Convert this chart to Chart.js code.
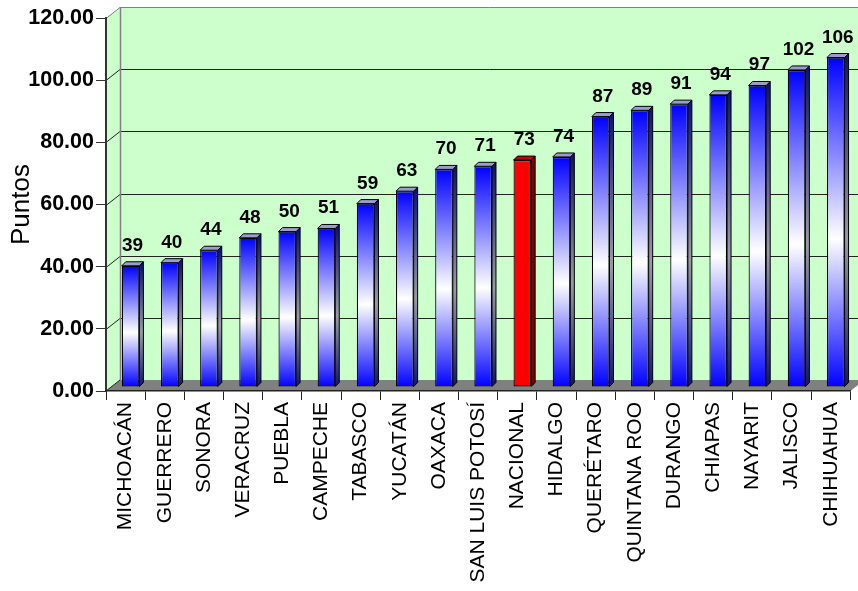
<!DOCTYPE html>
<html>
<head>
<meta charset="utf-8">
<script src="https://cdn.jsdelivr.net/npm/chart.js@4.4.1/dist/chart.umd.min.js"></script>
<style>
    html, body { margin: 0; padding: 0; background: #fff; }
    #wrap { width: 858px; height: 591px; }
</style>
</head>
<body>
<div id="wrap"><canvas id="puntosChart" width="858" height="591"></canvas></div>
<script>
        // Datos
        const estados = ['MICHOACÁN', 'GUERRERO', 'SONORA', 'VERACRUZ', 'PUEBLA', 'CAMPECHE', 'TABASCO', 'YUCATÁN',
            'OAXACA', 'SAN LUIS POTOSÍ', 'NACIONAL', 'HIDALGO', 'QUERÉTARO', 'QUINTANA ROO', 'DURANGO', 'CHIAPAS',
            'NAYARIT', 'JALISCO', 'CHIHUAHUA'];
        const puntos = [39, 40, 44, 48, 50, 51, 59, 63, 70, 71, 73, 74, 87, 89, 91, 94, 97, 102, 106];
        const ejeY = [0, 20, 40, 60, 80, 100, 120];
        const destacado = 'NACIONAL';

        // Configurar Chart.js
        Chart.defaults.font.family = "'Liberation Sans', Arial, sans-serif";
        Chart.defaults.color = '#000';

        const PROF_X = 14, PROF_Y = 11;   // profundidad de las paredes
        const MOV_X = 5, MOV_Y = -4;      // barras a media profundidad
        const BAR_X = 4, BAR_Y = 4;       // profundidad de la barra
        const idxRojo = estados.indexOf(destacado);

        // Paredes, piso y rejilla
        const paredes = {
            id: 'paredes',
            beforeDraw(chart) {
                const { ctx, chartArea: a, scales: { y } } = chart;
                ctx.save();
                ctx.fillStyle = '#ccffcc';
                ctx.beginPath();
                ctx.moveTo(a.left, a.top);
                ctx.lineTo(a.left + PROF_X, a.top - PROF_Y);
                ctx.lineTo(a.right + PROF_X, a.top - PROF_Y);
                ctx.lineTo(a.right + PROF_X, a.bottom - PROF_Y);
                ctx.lineTo(a.left, a.bottom);
                ctx.closePath();
                ctx.fill();

                // piso
                ctx.fillStyle = '#808080';
                ctx.beginPath();
                ctx.moveTo(a.left, a.bottom);
                ctx.lineTo(a.left + PROF_X, a.bottom - PROF_Y);
                ctx.lineTo(a.right + PROF_X, a.bottom - PROF_Y);
                ctx.lineTo(a.right, a.bottom);
                ctx.closePath();
                ctx.fill();

                // rejilla
                ctx.lineWidth = 1;
                ejeY.forEach(v => {
                    if (v === 0) return;
                    const py = Math.round(y.getPixelForValue(v)) + 0.5;
                    ctx.strokeStyle = v === ejeY[ejeY.length - 1] ? '#808080' : '#222';
                    ctx.beginPath();
                    ctx.moveTo(a.left, py);
                    ctx.lineTo(a.left + PROF_X, py - PROF_Y);
                    ctx.lineTo(a.right + PROF_X, py - PROF_Y);
                    ctx.stroke();
                });
                ctx.strokeStyle = '#222';
                ctx.beginPath();
                ctx.moveTo(a.left, a.bottom);
                ctx.lineTo(a.left + PROF_X, a.bottom - PROF_Y);
                ctx.stroke();

                // borde de la pared del fondo
                ctx.strokeStyle = '#808080';
                ctx.lineWidth = 1.5;
                ctx.beginPath();
                ctx.moveTo(a.left + PROF_X + 0.5, a.top - PROF_Y);
                ctx.lineTo(a.left + PROF_X + 0.5, a.bottom - PROF_Y);
                ctx.stroke();
                ctx.restore();
            },
            beforeDatasetsDraw(chart) {
                chart.ctx.save();
                chart.ctx.translate(MOV_X, MOV_Y);
            },
            afterDatasetsDraw(chart) {
                const { ctx } = chart;
                chart.getDatasetMeta(0).data.forEach((el, i) => {
                    const p = el.getProps(['x', 'y', 'base', 'width'], true);
                    const l = p.x - p.width / 2, r = p.x + p.width / 2;
                    const rojo = i === idxRojo;

                    // lado
                    let g = ctx.createLinearGradient(0, p.y, 0, p.base);
                    if (rojo) {
                        g = '#800000';
                    } else {
                        g.addColorStop(0, '#12127a');
                        g.addColorStop(0.55, '#9a9aa6');
                        g.addColorStop(1, '#12127a');
                    }
                    ctx.fillStyle = g;
                    ctx.strokeStyle = '#000';
                    ctx.lineWidth = 1;
                    ctx.beginPath();
                    ctx.moveTo(r, p.y);
                    ctx.lineTo(r + BAR_X, p.y - BAR_Y);
                    ctx.lineTo(r + BAR_X, p.base - BAR_Y);
                    ctx.lineTo(r, p.base);
                    ctx.closePath();
                    ctx.fill();
                    ctx.stroke();

                    // tapa
                    ctx.fillStyle = rojo ? '#c00000' : '#9c9cd0';
                    ctx.beginPath();
                    ctx.moveTo(l, p.y);
                    ctx.lineTo(l + BAR_X, p.y - BAR_Y);
                    ctx.lineTo(r + BAR_X, p.y - BAR_Y);
                    ctx.lineTo(r, p.y);
                    ctx.closePath();
                    ctx.fill();
                    ctx.stroke();

                    // etiqueta
                    ctx.fillStyle = '#000';
                    ctx.font = "bold 19px 'Liberation Sans', Arial, sans-serif";
                    ctx.textAlign = 'center';
                    ctx.textBaseline = 'alphabetic';
                    ctx.fillText(String(puntos[i]), p.x + 2, p.y - 15);
                });
                ctx.restore();
            }
        };

        const ctxPuntos = document.getElementById('puntosChart').getContext('2d');
        new Chart(ctxPuntos, {
            type: 'bar',
            data: {
                labels: estados,
                datasets: [{
                    label: 'Puntos',
                    data: puntos,
                    backgroundColor: (c) => {
                        if (c.dataIndex === idxRojo) return '#ff0000';
                        const chart = c.chart;
                        if (!chart.chartArea || !chart.scales.y) return '#0000ff';
                        const y = chart.scales.y;
                        const top = y.getPixelForValue(puntos[c.dataIndex]);
                        const base = y.getPixelForValue(0);
                        const g = chart.ctx.createLinearGradient(0, top, 0, base);
                        g.addColorStop(0, '#0000ff');
                        g.addColorStop(0.55, '#ffffff');
                        g.addColorStop(1, '#0000ff');
                        return g;
                    },
                    borderColor: '#000',
                    borderWidth: 1.2,
                    borderSkipped: false,
                    barPercentage: 0.45,
                    categoryPercentage: 1,
                    clip: false
                }]
            },
            options: {
                responsive: false,
                animation: false,
                layout: {
                    padding: { top: 18, right: 2, left: 0, bottom: 0 }
                },
                plugins: {
                    legend: { display: false },
                    tooltip: { enabled: false }
                },
                scales: {
                    y: {
                        min: 0,
                        max: 120,
                        afterFit: (s) => { s.width = 106; },
                        ticks: {
                            stepSize: 20,
                            padding: 2,
                            font: { size: 21.5, weight: 'bold' },
                            callback: (v) => v.toFixed(2)
                        },
                        grid: {
                            drawOnChartArea: false,
                            drawTicks: true,
                            tickLength: 10,
                            color: '#333'
                        },
                        border: { display: true, color: '#333', width: 2 },
                        title: {
                            display: true,
                            text: 'Puntos',
                            font: { size: 26 },
                            padding: { top: 6, bottom: 0 }
                        }
                    },
                    x: {
                        afterFit: (s) => { s.height = 200; },
                        ticks: {
                            minRotation: 90,
                            maxRotation: 90,
                            autoSkip: false,
                            padding: 2,
                            font: { size: 21 }
                        },
                        grid: {
                            offset: true,
                            drawOnChartArea: false,
                            drawTicks: true,
                            tickLength: 9,
                            color: '#222'
                        },
                        border: { display: true, color: '#222', width: 1.5 }
                    }
                }
            },
            plugins: [paredes]
        });
</script>
</body>
</html>
